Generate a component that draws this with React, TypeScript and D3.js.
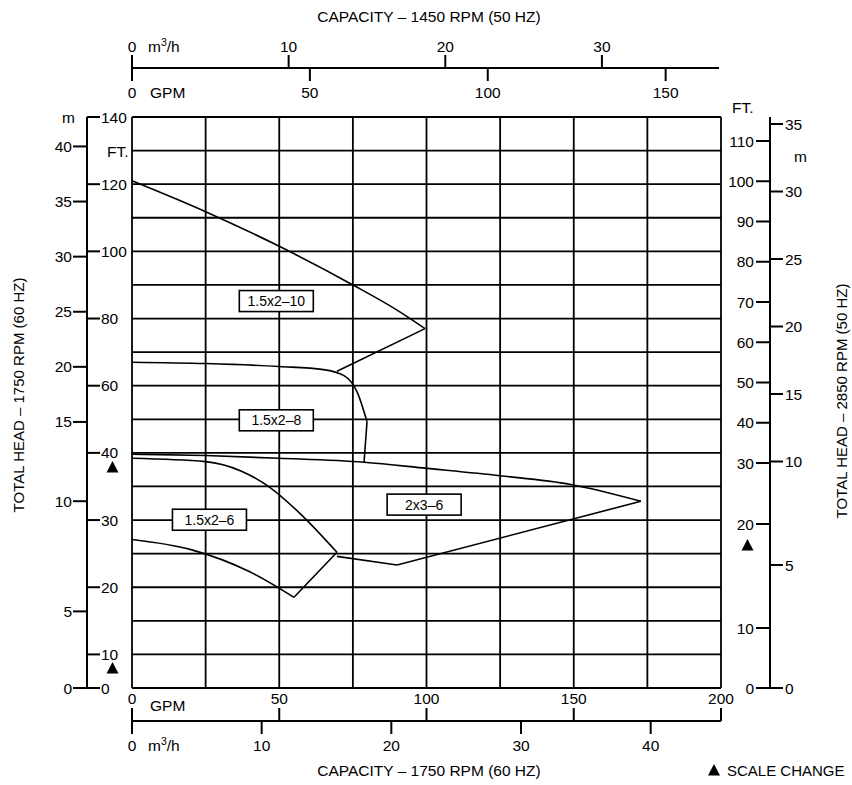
import React from "react";
import * as d3 from "d3";

// ---- Axis tick values ----
const bottomGpmTicks = [0, 50, 100, 150, 200];
const bottomM3hTicks = [0, 10, 20, 30, 40];
const topGpmTicks = [0, 50, 100, 150];
const topM3hTicks = [0, 10, 20, 30];
const leftFtTicks = [0, 10, 20, 30, 40, 60, 80, 100, 120, 140];
const leftMTicks = [0, 5, 10, 15, 20, 25, 30, 35, 40];
const rightFtTicks = [0, 10, 20, 30, 40, 50, 60, 70, 80, 90, 100, 110];
const rightMTicks = [0, 5, 10, 15, 20, 25, 30, 35];
const gridFt = [0, 10, 15, 20, 25, 30, 35, 40, 50, 60, 70, 80, 90, 100, 110, 120, 130, 140];
const gridGpm = [0, 25, 50, 75, 100, 125, 150, 175, 200];

// ---- Curve data (GPM @1750, head ft @1750) ----
const c10Max: [number, number][] = [[0, 121], [25, 111.8], [50, 101.5], [75, 90], [90, 82.5], [99.5, 77]];
const c10End: [number, number][] = [[99.5, 77], [69.6, 64.3]];
const c8Max: [number, number][] = [[0, 67], [25, 66.6], [50, 65.7], [65, 64.8], [72, 63], [76.5, 58], [79.8, 49.3]];
const c8End: [number, number][] = [[79.8, 49.3], [78.8, 38.6]];
const c23Max: [number, number][] = [[0, 39.8], [25, 39.6], [50, 39.2], [78.8, 38.6], [100, 37.7], [125, 36.6], [149, 35.3], [172.8, 32.8]];
const c23End: [number, number][] = [[172.8, 32.8], [90, 23.3]];
const c23Min: [number, number][] = [[69.6, 24.6], [90, 23.3]];
const c6Max: [number, number][] = [[0, 39.2], [25, 38.7], [37, 37.3], [47, 34.8], [57, 31], [69.6, 25.2]];
const c6End: [number, number][] = [[69.6, 25.2], [55, 18.5]];
const c6Min: [number, number][] = [[0, 27.1], [20, 25.6], [40, 22.3], [55, 18.5]];

const curveLabels = [
  { text: "1.5x2\u201310", q: 49, h: 85.2 },
  { text: "1.5x2\u20138", q: 49, h: 49.7 },
  { text: "2x3\u20136", q: 99.2, h: 32.3 },
  { text: "1.5x2\u20136", q: 26.3, h: 30.05 },
];

const FONT = "'Liberation Sans', Arial, Helvetica, sans-serif";
const M_TO_FT = 3.28084;
const GPM_PER_M3H = 4.403;

export default function App() {
  const W = 852, H = 785;
  const x0 = 132, x1 = 721;
  const yTop = 117, yBot = 688;
  const cell = (yBot - yTop) / 17;

  const xB = d3.scaleLinear().domain([0, 200]).range([x0, x1]);
  const xBm = d3.scaleLinear().domain([0, 200 / GPM_PER_M3H]).range([x0, x1]);
  const topMax = 165;
  const xT = d3.scaleLinear().domain([0, topMax]).range([x0, x1 - 2]);
  const xTm = d3.scaleLinear().domain([0, topMax / GPM_PER_M3H]).range([x0, x1 - 2]);

  const yL = d3.scaleLinear().domain([0, 10, 40, 140]).range([yBot, yBot - cell, yBot - 7 * cell, yTop]);
  const yLm = (m: number) => yL(m * M_TO_FT);
  const yRft = d3.scaleLinear().domain([0, 10, 20, 30, 110]).range([yBot, 628, 524, 463, 141]);
  const yRm = d3.scaleLinear().domain([0, 5, 10, 35]).range([yBot, 565, 461.5, 124]);

  const line = d3.line<[number, number]>().x((d) => xB(d[0])).y((d) => yL(d[1]));
  const smooth = d3.line<[number, number]>().x((d) => xB(d[0])).y((d) => yL(d[1])).curve(d3.curveMonotoneX);

  const lxL = 87; // left axis line
  const lxR = 770; // right axis line
  const topY = 68;
  const botY = 721;
  const FS = 15.5;

  const tri = (cx: number, cy: number, key: string) => (
    <path key={key} d={`M${cx - 6},${cy + 5.5}L${cx + 6},${cy + 5.5}L${cx},${cy - 6}Z`} fill="#000" />
  );

  return (
    <svg width={W} height={H} style={{ position: "absolute", left: 0, top: 0, background: "#fff" }} fontFamily={FONT}>
      <rect width={W} height={H} fill="#fff" />
      {/* grid */}
      <g stroke="#000" strokeWidth={1.8}>
        {gridFt.map((f) => (
          <line key={"h" + f} x1={x0} x2={x1} y1={yL(f)} y2={yL(f)} />
        ))}
        {gridGpm.map((g) => (
          <line key={"v" + g} x1={xB(g)} x2={xB(g)} y1={yTop} y2={yBot} />
        ))}
      </g>

      {/* curves */}
      <g fill="none" stroke="#000" strokeWidth={1.6}>
        <path d={smooth(c10Max) || ""} />
        <path d={line(c10End) || ""} />
        <path d={smooth(c8Max) || ""} />
        <path d={line(c8End) || ""} />
        <path d={smooth(c23Max) || ""} />
        <path d={line(c23End) || ""} />
        <path d={line(c23Min) || ""} />
        <path d={smooth(c6Max) || ""} />
        <path d={line(c6End) || ""} />
        <path d={smooth(c6Min) || ""} />
      </g>

      {/* curve labels */}
      {curveLabels.map((l) => {
        const cx = xB(l.q), cy = yL(l.h);
        return (
          <g key={l.text}>
            <rect x={cx - 37} y={cy - 10.5} width={74} height={21} fill="#fff" stroke="#000" strokeWidth={1.6} />
            <text x={cx} y={cy + 5} fontSize={14} textAnchor="middle">{l.text}</text>
          </g>
        );
      })}

      {/* left axis */}
      <g stroke="#000" strokeWidth={2}>
        <line x1={lxL} x2={lxL} y1={yTop} y2={yBot} />
        {leftFtTicks.map((f) => (
          <line key={"lf" + f} x1={lxL} x2={lxL + 13} y1={yL(f)} y2={yL(f)} />
        ))}
        {leftMTicks.map((m) => (
          <line key={"lm" + m} x1={lxL - 14} x2={lxL} y1={yLm(m)} y2={yLm(m)} />
        ))}
      </g>
      <g fontSize={FS}>
        {leftFtTicks.map((f) => (
          <text key={"lft" + f} x={lxL + 14} y={yL(f) + 5.5}>{f}</text>
        ))}
        {leftMTicks.map((m) => (
          <text key={"lmt" + m} x={lxL - 15} y={yLm(m) + 5.5} textAnchor="end">{m}</text>
        ))}
        <text x={62} y={123}>m</text>
        <text x={107} y={157}>FT.</text>
      </g>
      <text transform="translate(24,395) rotate(-90)" fontSize={15} textAnchor="middle">TOTAL HEAD – 1750 RPM (60 HZ)</text>
      {tri(112.5, 467, "t1")}
      {tri(112.5, 668, "t2")}

      {/* right axis */}
      <g stroke="#000" strokeWidth={2}>
        <line x1={lxR} x2={lxR} y1={yTop} y2={yBot} />
        {rightFtTicks.map((f) => (
          <line key={"rf" + f} x1={lxR - 14} x2={lxR} y1={yRft(f)} y2={yRft(f)} />
        ))}
        {rightMTicks.map((m) => (
          <line key={"rm" + m} x1={lxR} x2={lxR + 13} y1={yRm(m)} y2={yRm(m)} />
        ))}
      </g>
      <g fontSize={FS}>
        {rightFtTicks.map((f) => (
          <text key={"rft" + f} x={lxR - 16} y={yRft(f) + 5.5} textAnchor="end">{f}</text>
        ))}
        {rightMTicks.map((m) => (
          <text key={"rmt" + m} x={lxR + 15} y={yRm(m) + 5.5}>{m}</text>
        ))}
        <text x={732} y={113}>FT.</text>
        <text x={794} y={162}>m</text>
      </g>
      <text transform="translate(847,401) rotate(-90)" fontSize={15} textAnchor="middle">TOTAL HEAD – 2850 RPM (50 HZ)</text>
      {tri(747.5, 545, "t3")}

      {/* top axis */}
      <g stroke="#000" strokeWidth={2}>
        <line x1={x0} x2={x1 - 2} y1={topY} y2={topY} />
        {topM3hTicks.map((m) => (
          <line key={"tm" + m} x1={xTm(m)} x2={xTm(m)} y1={topY - 13} y2={topY} />
        ))}
        {topGpmTicks.map((g) => (
          <line key={"tg" + g} x1={xT(g)} x2={xT(g)} y1={topY} y2={topY + 13} />
        ))}
      </g>
      <g fontSize={FS} textAnchor="middle">
        {topM3hTicks.map((m) => (
          <text key={"tmt" + m} x={xTm(m)} y={topY - 16}>{m}</text>
        ))}
        {topGpmTicks.map((g) => (
          <text key={"tgt" + g} x={xT(g)} y={topY + 30}>{g}</text>
        ))}
      </g>
      <text x={148} y={52} fontSize={FS}>m<tspan dy={-6} fontSize={10.5}>3</tspan><tspan dy={6}>/h</tspan></text>
      <text x={150} y={98} fontSize={FS}>GPM</text>
      <text x={429} y={22} fontSize={15.5} textAnchor="middle">CAPACITY – 1450 RPM (50 HZ)</text>

      {/* bottom axis */}
      <g stroke="#000" strokeWidth={2}>
        <line x1={x0} x2={x1} y1={botY} y2={botY} />
        {bottomGpmTicks.map((g) => (
          <line key={"bg" + g} x1={xB(g)} x2={xB(g)} y1={botY - 13} y2={botY} />
        ))}
        {bottomM3hTicks.map((m) => (
          <line key={"bm" + m} x1={xBm(m)} x2={xBm(m)} y1={botY} y2={botY + 13} />
        ))}
      </g>
      <g fontSize={FS} textAnchor="middle">
        {bottomGpmTicks.map((g) => (
          <text key={"bgt" + g} x={xB(g)} y={botY - 17}>{g}</text>
        ))}
        {bottomM3hTicks.map((m) => (
          <text key={"bmt" + m} x={xBm(m)} y={botY + 30}>{m}</text>
        ))}
      </g>
      <text x={150} y={711} fontSize={FS}>GPM</text>
      <text x={148} y={751} fontSize={FS}>m<tspan dy={-6} fontSize={10.5}>3</tspan><tspan dy={6}>/h</tspan></text>
      <text x={429} y={776} fontSize={15.5} textAnchor="middle">CAPACITY – 1750 RPM (60 HZ)</text>

      {tri(714, 770, "t4")}
      <text x={727} y={776} fontSize={15}>SCALE CHANGE</text>
    </svg>
  );
}
